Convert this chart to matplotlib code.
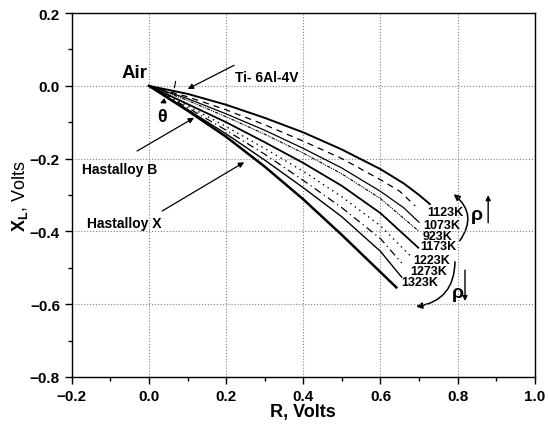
import matplotlib
matplotlib.use("Agg")
import matplotlib.pyplot as plt
from matplotlib.patches import FancyArrowPatch
from matplotlib.ticker import MultipleLocator

plt.rcParams['font.family'] = ['Liberation Sans', 'DejaVu Sans']
plt.rcParams['mathtext.fontset'] = 'custom'
plt.rcParams['mathtext.bf'] = 'Liberation Sans:bold'
plt.rcParams['mathtext.rm'] = 'Liberation Sans'
plt.rcParams['mathtext.it'] = 'Liberation Sans:italic'

# R (x) and X_L (y) values, one pair of lists per temperature
r_1123 = [0, 0.1, 0.2, 0.3, 0.4, 0.5, 0.6, 0.66, 0.70, 0.728]
x_1123 = [0, -0.022, -0.052, -0.088, -0.128, -0.175, -0.229, -0.268, -0.300, -0.325]

r_1073 = [0, 0.1, 0.2, 0.3, 0.4, 0.5, 0.6, 0.65, 0.69]
x_1073 = [0, -0.030, -0.066, -0.107, -0.152, -0.200, -0.258, -0.290, -0.330]

r_c = [0, 0.1, 0.2, 0.3, 0.4, 0.5, 0.6, 0.66, 0.70]
x_c = [0, -0.035, -0.077, -0.122, -0.172, -0.226, -0.290, -0.335, -0.375]

r_923 = [0, 0.1, 0.2, 0.3, 0.4, 0.5, 0.6, 0.70]
x_923 = [0, -0.040, -0.085, -0.133, -0.185, -0.242, -0.310, -0.400]

r_1173 = [0, 0.1, 0.2, 0.3, 0.4, 0.5, 0.6, 0.698]
x_1173 = [0, -0.050, -0.100, -0.155, -0.212, -0.275, -0.350, -0.445]

r_1223 = [0, 0.1, 0.2, 0.3, 0.4, 0.5, 0.6, 0.68]
x_1223 = [0, -0.055, -0.112, -0.172, -0.235, -0.305, -0.385, -0.470]

r_g = [0, 0.1, 0.2, 0.3, 0.4, 0.5, 0.6, 0.655]
x_g = [0, -0.060, -0.122, -0.188, -0.260, -0.335, -0.420, -0.487]

r_1273 = [0, 0.1, 0.2, 0.3, 0.4, 0.5, 0.6, 0.655]
x_1273 = [0, -0.065, -0.132, -0.204, -0.280, -0.360, -0.455, -0.526]

r_1323 = [0, 0.1, 0.2, 0.3, 0.4, 0.5, 0.6, 0.641]
x_1323 = [0, -0.068, -0.140, -0.222, -0.312, -0.410, -0.512, -0.554]

temp_labels = ['1123K', '1073K', '923K', '1173K', '1223K', '1273K', '1323K']
label_r = [0.767, 0.758, 0.749, 0.749, 0.732, 0.724, 0.702]
label_x = [-0.346, -0.382, -0.412, -0.441, -0.478, -0.510, -0.540]

fig = plt.figure(figsize=(5.48, 4.27), dpi=100)
ax = fig.add_axes([0.131, 0.115, 0.845, 0.852])

ax.plot(r_1123, x_1123, color='black', lw=1.4, ls='-')
ax.plot(r_1073, x_1073, color='black', lw=0.9, ls=(0, (5, 4)))
ax.plot(r_c, x_c, color='black', lw=0.9, ls='-')
ax.plot(r_923, x_923, color='black', lw=0.8, ls=(0, (3, 1, 1, 1, 1, 1)))
ax.plot(r_1173, x_1173, color='black', lw=1.3, ls='-')
ax.plot(r_1223, x_1223, color='black', lw=1.0, ls=(0, (1, 3)))
ax.plot(r_g, x_g, color='black', lw=0.9, ls=(0, (6, 3, 1, 3)))
ax.plot(r_1273, x_1273, color='black', lw=1.0, ls='-')
ax.plot(r_1323, x_1323, color='black', lw=1.8, ls='-')

for lab, lr, lx in zip(temp_labels, label_r, label_x):
    ax.text(lr, lx, lab, fontsize=9, fontweight='bold', ha='center', va='center')

ax.set_xlim(-0.2, 1.0)
ax.set_ylim(-0.8, 0.2)
ax.xaxis.set_major_locator(MultipleLocator(0.2))
ax.xaxis.set_minor_locator(MultipleLocator(0.1))
ax.yaxis.set_major_locator(MultipleLocator(0.2))
ax.yaxis.set_minor_locator(MultipleLocator(0.1))
ax.tick_params(which='both', direction='out', top=False, right=False, width=1.0)
ax.tick_params(which='major', length=5, labelsize=11)
ax.tick_params(which='minor', length=3)
for t in ax.get_xticklabels() + ax.get_yticklabels():
    t.set_fontweight('bold')
for s in ax.spines.values():
    s.set_linewidth(1.0)
ax.grid(True, which='major', ls=':', color='gray', lw=0.8)

ax.set_xlabel('R, Volts', fontsize=13, fontweight='bold', labelpad=0)
ax.set_ylabel(r'$\mathbf{X}_{\mathbf{L}}$, Volts', fontsize=13, labelpad=0)

# annotations
ax.text(-0.037, 0.038, 'Air', fontsize=13.5, fontweight='bold', ha='center', va='center')
ax.text(0.305, 0.024, 'Ti- 6Al-4V', fontsize=10, fontweight='bold', ha='center', va='center')
ax.annotate('', xy=(0.094, -0.012), xytext=(0.227, 0.06),
            arrowprops=dict(arrowstyle='-|>', color='black', lw=0.9, mutation_scale=8))
ax.text(-0.076, -0.229, 'Hastalloy B', fontsize=10, fontweight='bold', ha='center', va='center')
ax.annotate('', xy=(0.123, -0.084), xytext=(-0.037, -0.183),
            arrowprops=dict(arrowstyle='-|>', color='black', lw=0.9, mutation_scale=8))
ax.text(-0.065, -0.377, 'Hastalloy X', fontsize=10, fontweight='bold', ha='center', va='center')
ax.annotate('', xy=(0.253, -0.206), xytext=(0.028, -0.348),
            arrowprops=dict(arrowstyle='-|>', color='black', lw=0.9, mutation_scale=8))

ax.text(0.036, -0.083, r'$\mathbf{\theta}$', fontsize=13, ha='center', va='center')
ax.annotate('', xy=(0.022, -0.051), xytext=(0.045, -0.040),
            arrowprops=dict(arrowstyle='-|>', color='black', lw=1.0, mutation_scale=7))
ax.plot([0.066, 0.069], [-0.005, 0.012], color='black', lw=0.8)

# rho arrows
ax.add_patch(FancyArrowPatch((0.801, -0.432), (0.784, -0.293), connectionstyle='arc3,rad=0.5',
                             arrowstyle='-|>', mutation_scale=9, color='black', lw=1.1))
ax.add_patch(FancyArrowPatch((0.793, -0.476), (0.685, -0.608), connectionstyle='arc3,rad=-0.45',
                             arrowstyle='-|>', mutation_scale=9, color='black', lw=1.1))
ax.text(0.849, -0.357, r'$\mathbf{\rho}$', fontsize=14, ha='center', va='center')
ax.text(0.801, -0.572, r'$\mathbf{\rho}$', fontsize=14, ha='center', va='center')
ax.annotate('', xy=(0.879, -0.293), xytext=(0.879, -0.384),
            arrowprops=dict(arrowstyle='-|>', color='black', lw=1.0, mutation_scale=7))
ax.annotate('', xy=(0.819, -0.599), xytext=(0.819, -0.499),
            arrowprops=dict(arrowstyle='-|>', color='black', lw=1.0, mutation_scale=7))

fig.savefig('out.png', dpi=100)
